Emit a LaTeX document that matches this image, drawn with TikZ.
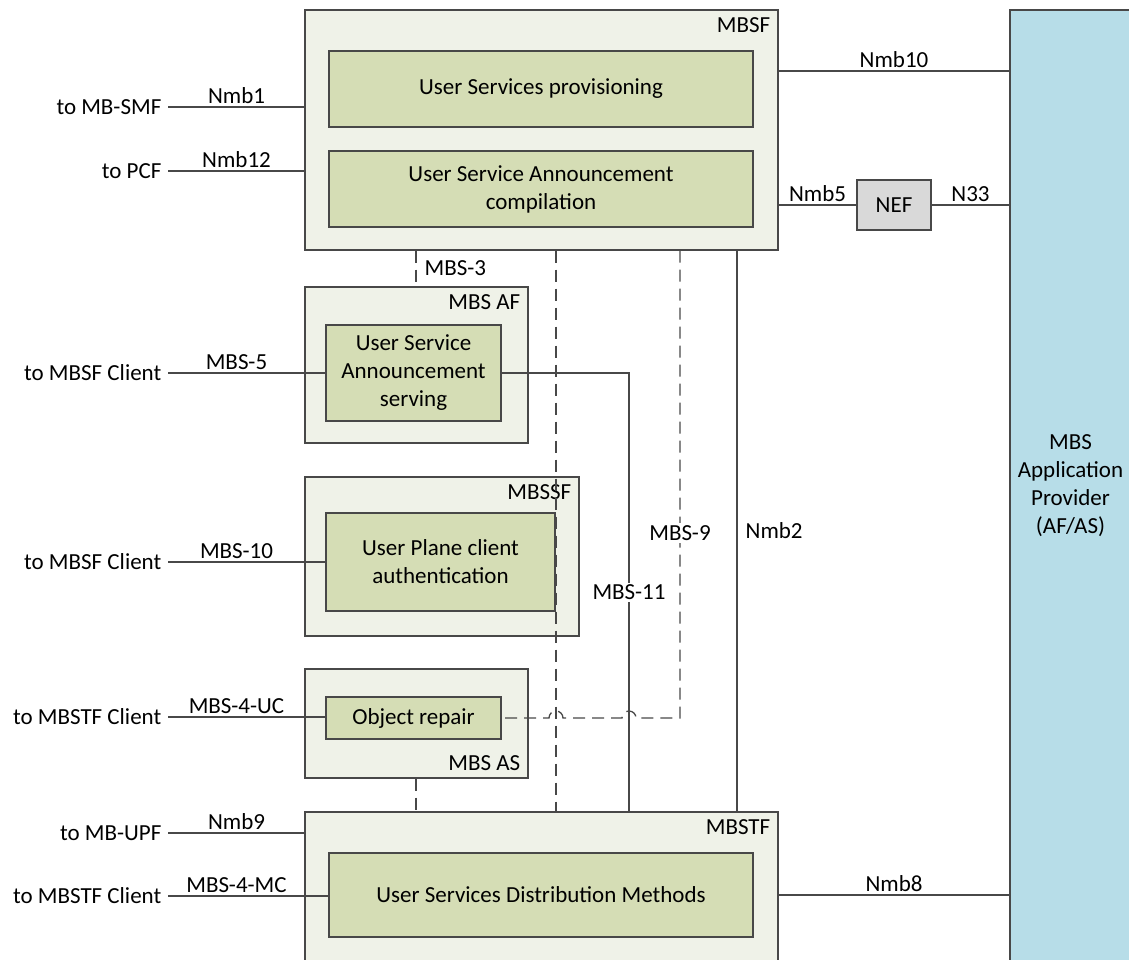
\documentclass[tikz,border=0pt]{standalone}
\usepackage{fontspec}
\setmainfont{Carlito}
\definecolor{linegray}{RGB}{72,72,72}
\definecolor{nfouter}{RGB}{239,242,232}
\definecolor{nfinner}{RGB}{213,221,181}
\definecolor{appblue}{RGB}{183,221,232}
\definecolor{nefgray}{RGB}{217,217,217}
\begin{document}
\begin{tikzpicture}[x=0.5pt,y=-0.5pt, font=\fontsize{11.5}{14}\selectfont,
    nf/.style={draw=linegray, line width=0.65pt, fill=nfouter, inner sep=0pt},
    fn/.style={draw=linegray, line width=0.65pt, fill=nfinner, inner sep=0pt, align=center},
    tag/.style={inner sep=4pt},
    link/.style={draw=linegray, line width=0.65pt},
    ref/.style={link, dash pattern=on 6pt off 3.5pt},
    lbl/.style={above, inner sep=1.5pt},
    ext/.style={anchor=east, inner sep=3pt}]
  \useasboundingbox (0,0) rectangle (1129,959);

  % application provider and NEF
  \node[fill=appblue, draw=linegray, line width=0.65pt, inner sep=0pt, align=center,
        minimum width=60.5pt, minimum height=476pt] (amp) at (1070.5,486) {MBS\\Application\\Provider\\(AF/AS)};
  \node[fill=nefgray, draw=linegray, line width=0.65pt, inner sep=0pt,
        minimum width=37pt, minimum height=25pt] (nef) at (894,205) {NEF};

  % MBSF
  \node[nf, minimum width=236.5pt, minimum height=120pt] (mbsf) at (541.5,130) {};
  \node[tag, anchor=north east] (mbsftag) at (mbsf.north east) {MBSF};
  \node[fn, minimum width=212pt, minimum height=38pt] (prov) at (541,89) {User Services provisioning};
  \node[fn, minimum width=212pt, minimum height=38pt] (compile) at (541,189) {User Service Announcement\\compilation};

  % MBS AF
  \node[nf, minimum width=111.5pt, minimum height=78pt] (mbsaf) at (416.5,365) {};
  \node[tag, anchor=north east] (mbsaftag) at (mbsaf.north east) {MBS AF};
  \node[fn, minimum width=87.5pt, minimum height=48pt] (annserv) at (413.5,373) {User Service\\Announcement\\serving};

  % MBSSF
  \node[nf, minimum width=137pt, minimum height=79.5pt] (mbssf) at (442,556.5) {};
  \node[tag, anchor=north east] (mbssftag) at (mbssf.north east) {MBSSF};
  \node[fn, minimum width=114.5pt, minimum height=49pt] (upauth) at (440.5,562) {User Plane client\\authentication};

  % MBS AS
  \node[nf, minimum width=111.5pt, minimum height=54.5pt] (mbsas) at (416.5,723.5) {};
  \node[tag, anchor=south east] (mbsastag) at (mbsas.south east) {MBS AS};
  \node[fn, minimum width=87.5pt, minimum height=21pt] (repair) at (413.5,718) {Object repair};

  % MBSTF
  \node[nf, minimum width=236.5pt, minimum height=76.5pt] (mbstf) at (541.5,888.5) {};
  \node[tag, anchor=north east] (mbstftag) at (mbstf.north east) {MBSTF};
  \node[fn, minimum width=212pt, minimum height=42pt] (dist) at (541,895) {User Services Distribution Methods};

  % left side interfaces
  \foreach \y/\txt/\lab/\dst in {107/to MB-SMF/Nmb1/mbsf, 171/to PCF/Nmb12/mbsf,
      373/to MBSF Client/MBS-5/annserv, 562/to MBSF Client/MBS-10/upauth,
      717/to MBSTF Client/MBS-4-UC/repair, 833/to MB-UPF/Nmb9/mbstf,
      896/to MBSTF Client/MBS-4-MC/dist} {
    \coordinate (c\y) at (168,\y);
    \draw[link] (c\y) node[ext] (ext\y) {\txt} -- (c\y -| \dst.west);
    \node[lbl] (lab\y) at (236.5,\y) {\lab};
  }

  % right side interfaces
  \draw[link] (mbsf.east |- 0,71) -- (amp.west |- 0,71) node[lbl, midway] (nmb10) {Nmb10};
  \draw[link] (nef.west -| mbsf.east) -- (nef.west) node[lbl, midway] (nmb5) {Nmb5};
  \draw[link] (nef.east) -- (nef.east -| amp.west) node[lbl, midway] (n33) {N33};
  \draw[link] (dist.east -| mbstf.east) -- (dist.east -| amp.west) node[lbl, midway] (nmb8) {Nmb8};

  % internal interfaces
  \draw[ref] (mbsf.south -| 416,0) -- (mbsaf.north -| 416,0) node[midway, right, inner sep=4pt] (mbs3) {MBS-3};
  \draw[ref] (mbsas.south -| 416,0) -- (mbstf.north -| 416,0);
  \draw[ref] (mbsf.south -| 556,0) -- (mbstf.north -| 556,0);
  \draw[link] (annserv.east) -| (mbstf.north -| 629,0)
    node[pos=0.75, fill=white, inner sep=1pt] (mbs11) {MBS-11};
  \draw[ref] (mbsf.south -| 680,0) -- (repair.east -| 680,0) -- (repair.east -| 636,0)
    arc (0:-180:7) -- (repair.east -| 563,0) arc (0:-180:7) -- (repair.east);
  \node[fill=white, inner sep=1pt] (mbs9) at (680,533) {MBS-9};
  \draw[link] (mbsf.south -| 737,0) -- (mbstf.north -| 737,0) node[midway, right, inner sep=4pt] (nmb2) {Nmb2};
\end{tikzpicture}
\end{document}
